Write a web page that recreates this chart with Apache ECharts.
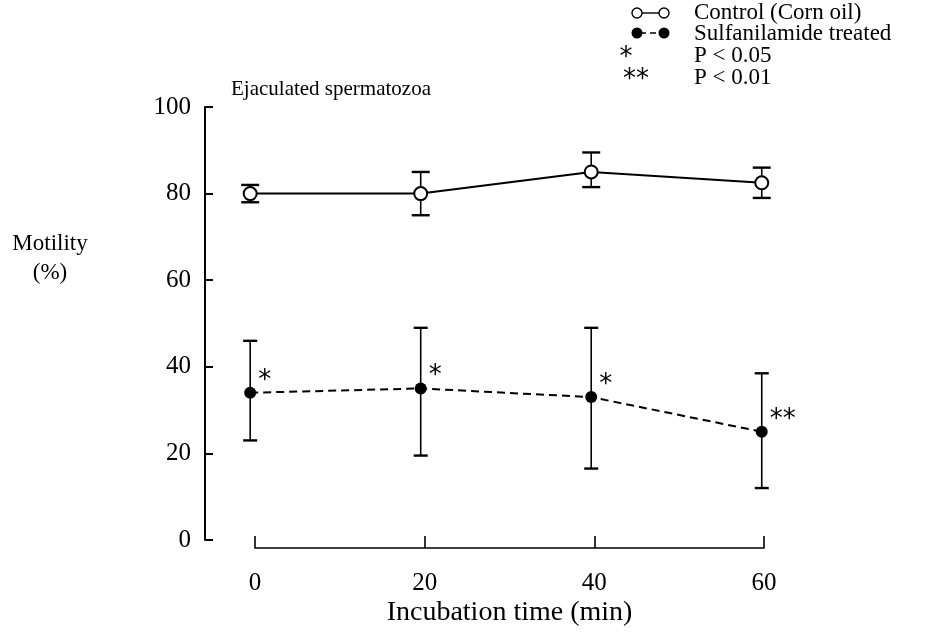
<!DOCTYPE html>
<html>
<head>
<meta charset="utf-8">
<script src="https://cdn.jsdelivr.net/npm/echarts@6/dist/echarts.min.js"></script>
<style>
html,body{margin:0;padding:0;background:#fff;}
#chart{width:930px;height:633px;}
</style>
</head>
<body>
<div id="chart"></div>
<script>
// ---- data ----
const times = [0, 20, 40, 60];
const xTickLabels = ['0', '20', '40', '60'];
const controlMean = [80, 80, 85, 82.5];
const controlLow  = [78, 75, 81.5, 79];
const controlHigh = [82, 85, 89.5, 86];
const sulfaMean = [34, 35, 33, 25];
const sulfaLow  = [23, 19.5, 16.5, 12];
const sulfaHigh = [46, 49, 49, 38.5];
const sigMarks = ['*', '*', '*', '**'];
const yMin = 0, yMax = 100, yStep = 20;

const SERIF = '"Liberation Serif", "Times New Roman", serif';
const chart = echarts.init(document.getElementById('chart'));

function errBar(capHalf) {
  return function (params, api) {
    const x = api.value(0), lo = api.value(1), hi = api.value(2);
    const a = api.coord([x, lo]), b = api.coord([x, hi]);
    const st = {stroke: '#000', lineWidth: 1.6};
    return {type: 'group', children: [
      {type: 'line', shape: {x1: a[0], y1: a[1], x2: b[0], y2: b[1]}, style: st},
      {type: 'line', shape: {x1: a[0] - capHalf, y1: a[1], x2: a[0] + capHalf, y2: a[1]}, style: {stroke: '#000', lineWidth: 2.4}},
      {type: 'line', shape: {x1: b[0] - capHalf, y1: b[1], x2: b[0] + capHalf, y2: b[1]}, style: {stroke: '#000', lineWidth: 2.4}}
    ]};
  };
}

const option = {
  backgroundColor: '#fff',
  animation: false,
  grid: [
    {left: 205, top: 107, width: 642, bottom: 93},
    {left: 255, width: 509, top: 536, height: 12}
  ],
  xAxis: [
    {gridIndex: 0, type: 'value', min: -5.3, max: 70, show: false},
    {gridIndex: 1, type: 'value', min: 0, max: 60, interval: 20,
     axisLine: {show: true, lineStyle: {color: '#000', width: 1.6}},
     axisTick: {show: true, inside: true, length: 12, lineStyle: {color: '#000', width: 1.6}},
     axisLabel: {color: '#000', fontFamily: SERIF, fontSize: 25, margin: 23,
                 formatter: function (v) { return xTickLabels[times.indexOf(v)] || ''; }},
     splitLine: {show: false},
     name: 'Incubation time (min)', nameLocation: 'middle', nameGap: 51,
     nameTextStyle: {color: '#000', fontFamily: SERIF, fontSize: 28}}
  ],
  yAxis: [
    {gridIndex: 0, type: 'value', min: yMin, max: yMax, interval: yStep,
     axisLine: {show: true, onZero: false, lineStyle: {color: '#000', width: 2}},
     axisTick: {show: true, inside: true, length: 8, lineStyle: {color: '#000', width: 2}},
     axisLabel: {color: '#000', fontFamily: SERIF, fontSize: 25, margin: 14},
     splitLine: {show: false}},
    {gridIndex: 1, type: 'value', show: false, min: 0, max: 1}
  ],
  graphic: [
    {type: 'text', x: 231, y: 89, style: {text: 'Ejaculated spermatozoa', font: '21px ' + SERIF, fill: '#000', textVerticalAlign: 'middle'}},
    {type: 'text', x: 50, y: 244, style: {text: 'Motility', font: '23px ' + SERIF, fill: '#000', textAlign: 'center', textVerticalAlign: 'middle'}},
    {type: 'text', x: 50, y: 273, style: {text: '(%)', font: '23px ' + SERIF, fill: '#000', textAlign: 'center', textVerticalAlign: 'middle'}},
    // legend
    {type: 'line', shape: {x1: 640, y1: 13, x2: 662, y2: 13}, style: {stroke: '#000', lineWidth: 1.4}},
    {type: 'circle', shape: {cx: 637, cy: 13, r: 5}, style: {fill: '#fff', stroke: '#000', lineWidth: 1.4}},
    {type: 'circle', shape: {cx: 664, cy: 13, r: 5}, style: {fill: '#fff', stroke: '#000', lineWidth: 1.4}},
    {type: 'line', shape: {x1: 640, y1: 33, x2: 662, y2: 33}, style: {stroke: '#000', lineWidth: 1.6, lineDash: [6, 4]}},
    {type: 'circle', shape: {cx: 637, cy: 33, r: 5.5}, style: {fill: '#000'}},
    {type: 'circle', shape: {cx: 664, cy: 33, r: 5.5}, style: {fill: '#000'}},
    {type: 'text', x: 626, y: 58, style: {text: '*', font: '26px "DejaVu Sans"', fill: '#000', textAlign: 'center', textVerticalAlign: 'middle'}},
    {type: 'text', x: 636, y: 80, style: {text: '**', font: '26px "DejaVu Sans"', fill: '#000', textAlign: 'center', textVerticalAlign: 'middle'}},
    {type: 'text', x: 694, y: 13, style: {text: 'Control (Corn oil)', font: '23px ' + SERIF, fill: '#000', textVerticalAlign: 'middle'}},
    {type: 'text', x: 694, y: 34, style: {text: 'Sulfanilamide treated', font: '23px ' + SERIF, fill: '#000', textVerticalAlign: 'middle'}},
    {type: 'text', x: 694, y: 56, style: {text: 'P < 0.05', font: '23px ' + SERIF, fill: '#000', textVerticalAlign: 'middle'}},
    {type: 'text', x: 694, y: 78, style: {text: 'P < 0.01', font: '23px ' + SERIF, fill: '#000', textVerticalAlign: 'middle'}}
  ],
  series: [
    {type: 'custom', name: 'ctrlErr', xAxisIndex: 0, yAxisIndex: 0, z: 2,
     renderItem: errBar(9),
     data: times.map((t, i) => [t, controlLow[i], controlHigh[i]])},
    {type: 'custom', name: 'sulfaErr', xAxisIndex: 0, yAxisIndex: 0, z: 2,
     renderItem: errBar(7),
     data: times.map((t, i) => [t, sulfaLow[i], sulfaHigh[i]])},
    {type: 'line', name: 'Control (Corn oil)', xAxisIndex: 0, yAxisIndex: 0, z: 3,
     data: times.map((t, i) => [t, controlMean[i]]),
     symbol: 'circle', symbolSize: 13,
     itemStyle: {color: '#fff', borderColor: '#000', borderWidth: 2},
     lineStyle: {color: '#000', width: 2}},
    {type: 'line', name: 'Sulfanilamide treated', xAxisIndex: 0, yAxisIndex: 0, z: 3,
     data: times.map((t, i) => [t, sulfaMean[i]]),
     symbol: 'circle', symbolSize: 12,
     itemStyle: {color: '#000', borderColor: '#000', borderWidth: 0},
     lineStyle: {color: '#000', width: 2, type: [8, 5]},
     label: {show: true, position: 'right', distance: 2, offset: [0, -12],
             fontFamily: '"DejaVu Sans"', fontSize: 26, color: '#000',
             formatter: function (p) { return sigMarks[p.dataIndex]; }}}
  ]
};
chart.setOption(option);
</script>
</body>
</html>
